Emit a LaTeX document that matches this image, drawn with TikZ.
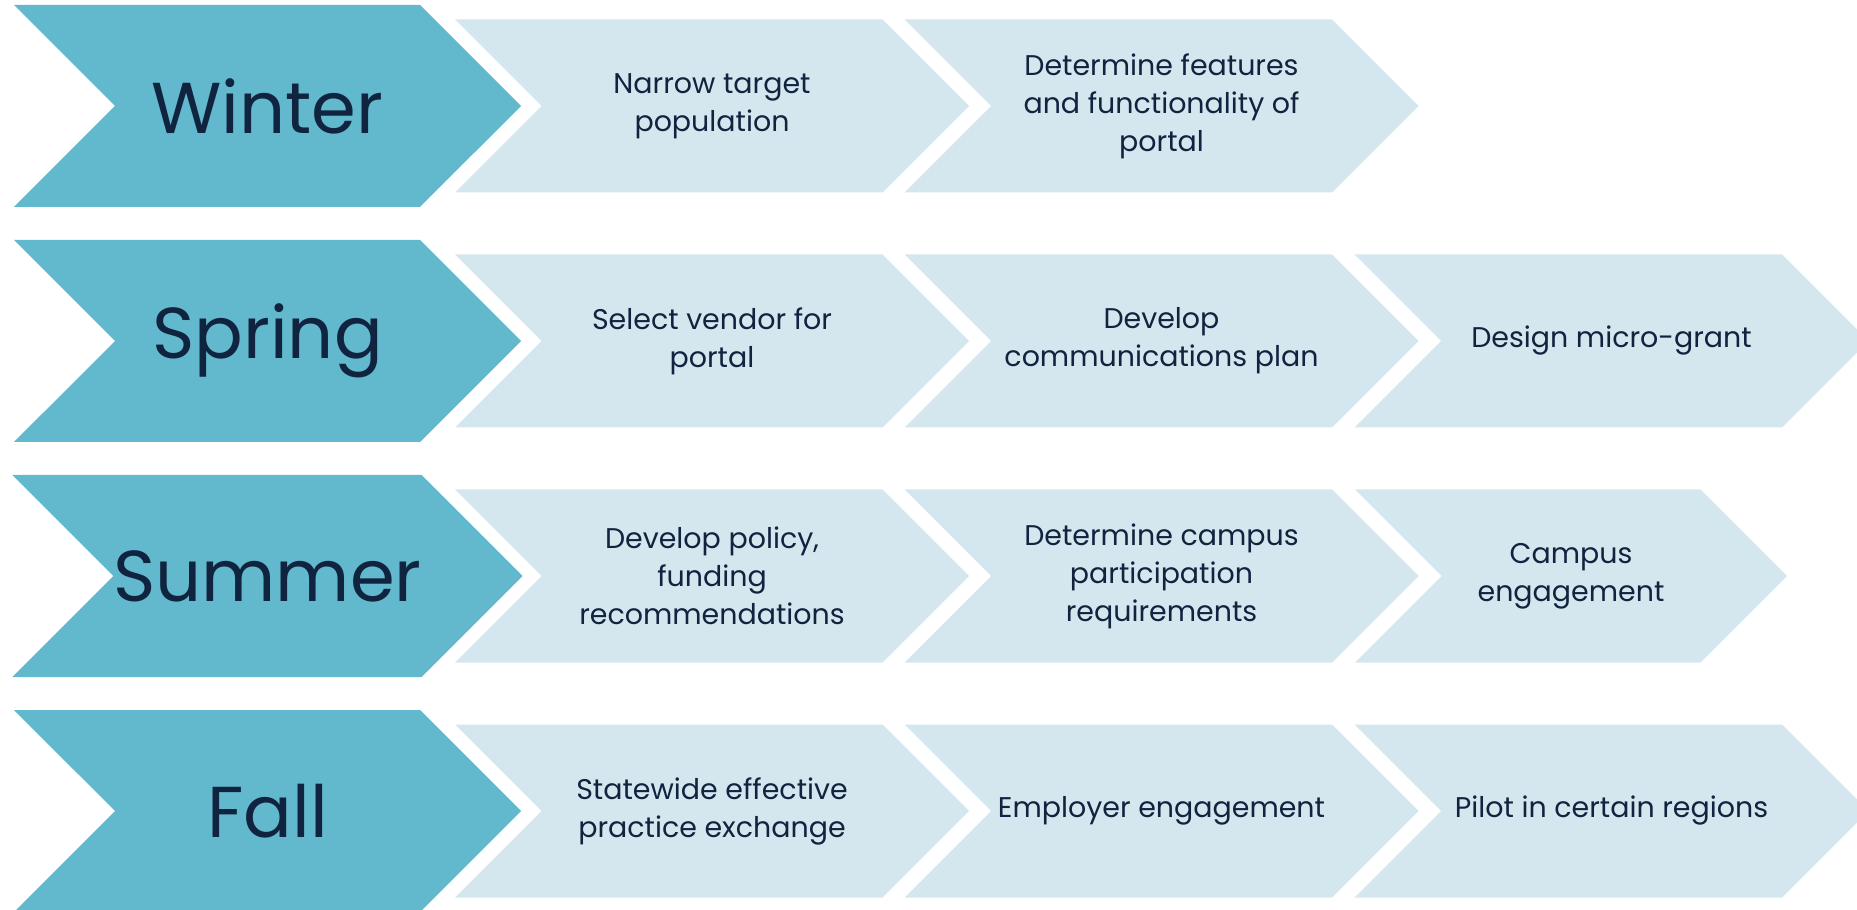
\documentclass[tikz,border=0pt]{standalone}
\usepackage{fontspec}
\setmainfont{Poppins}
\usepackage{tikz}
\usetikzlibrary{shapes.symbols}
\definecolor{seasonblue}{RGB}{98,184,204}
\definecolor{taskblue}{RGB}{213,231,238}
\definecolor{navy}{RGB}{16,35,63}
\tikzset{season/.style = {shape=signal, signal from=west, signal to=east, signal pointer angle=90, fill=seasonblue, text=navy, inner sep=0pt, minimum width=5.07cm, minimum height=2.02cm, font=\fontsize{20.5}{24}\selectfont}}
\tikzset{task/.style = {shape=signal, signal from=west, signal to=east, signal pointer angle=90, fill=taskblue, text=navy, inner sep=0pt, align=center, minimum width=5.14cm, minimum height=1.73cm, font=\fontsize{8.1}{10.8}\selectfont}}

\begin{document}
\begin{tikzpicture}
\useasboundingbox (0,0) rectangle (18.57,-9.10);
\clip (0,0) rectangle (18.57,-9.10);

\node[season] (winter) at (2.675,-1.06) {Winter};
\node[task] (w1) at (7.12,-1.06) {Narrow target\\population};
\node[task] (w2) at (11.615,-1.06) {Determine features\\and functionality of\\portal};

\node[season] (spring) at (2.675,-3.41) {Spring};
\node[task] (sp1) at (7.12,-3.41) {Select vendor for\\portal};
\node[task] (sp2) at (11.615,-3.41) {Develop\\communications plan};
\node[task] (sp3) at (16.115,-3.41) {Design micro-grant};

\node[season] (summer) at (2.675,-5.76) {Summer};
\node[task] (su1) at (7.12,-5.76) {Develop policy,\\funding\\recommendations};
\node[task] (su2) at (11.615,-5.76) {Determine campus\\participation\\requirements};
\node[task, minimum width=4.32cm] (su3) at (15.71,-5.76) {Campus\\engagement};

\node[season] (fall) at (2.675,-8.11) {Fall};
\node[task] (f1) at (7.12,-8.11) {Statewide effective\\practice exchange};
\node[task] (f2) at (11.615,-8.11) {Employer engagement};
\node[task] (f3) at (16.115,-8.11) {Pilot in certain regions};
\end{tikzpicture}
\end{document}
